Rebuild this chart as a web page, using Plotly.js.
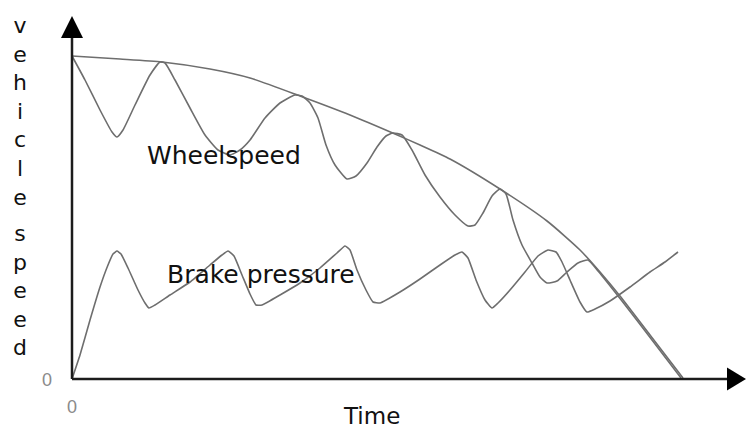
<!DOCTYPE html>
<html>
<head>
<meta charset="utf-8">
<script src="https://cdn.plot.ly/plotly-3.0.1.min.js"></script>
<style>html,body{margin:0;padding:0;background:#fff;}#chart{width:747px;height:430px;}</style>
</head>
<body>
<div id="chart"></div>
<script>
// Vehicle speed (envelope)
const envTime  = [0, 48, 90, 138, 178, 228, 278, 323, 348, 378, 428, 475, 508, 528, 548, 578, 611];
const envSpeed = [323, 320, 317, 310, 301, 283, 264, 245, 234, 220, 190, 158, 129, 107, 83, 44, 1];

// Wheel speed
const wheelTime  = [0, 13, 28, 40, 45, 51, 63, 78, 88, 93, 103, 118, 133, 146, 158, 168, 178, 193, 208, 223, 230, 238, 246, 254, 263, 275, 284, 295, 305, 314, 321, 330, 340, 353, 368, 383, 396, 403, 411, 420, 428, 434, 441, 450, 460, 468, 475, 485, 495, 506, 516, 526, 550, 580, 609];
const wheelSpeed = [323, 299, 269, 247, 242, 249, 274, 304, 317, 316, 299, 271, 244, 229, 224, 229, 239, 261, 276, 284, 283, 276, 261, 234, 214, 200, 203, 216, 232, 243, 246, 244, 229, 204, 182, 164, 153, 154, 166, 183, 190, 185, 159, 134, 116, 102, 96, 98, 107, 116, 119, 108, 78, 39, 1];

// Brake pressure
const brakeTime     = [0, 8, 18, 28, 36, 41, 45, 49, 56, 66, 73, 77, 83, 98, 118, 138, 150, 156, 162, 170, 178, 184, 190, 208, 228, 248, 265, 273, 278, 285, 294, 301, 308, 328, 348, 368, 383, 390, 396, 404, 413, 420, 426, 438, 453, 466, 476, 484, 490, 498, 508, 515, 523, 538, 558, 578, 593, 606];
const brakePressure = [0, 24, 59, 92, 114, 125, 128, 125, 111, 89, 76, 71, 74, 84, 97, 114, 124, 128, 123, 104, 85, 74, 74, 84, 96, 111, 126, 133, 129, 109, 89, 77, 76, 87, 100, 114, 124, 127, 121, 99, 79, 71, 76, 89, 107, 123, 129, 127, 117, 99, 77, 67, 70, 78, 92, 107, 117, 127];

// Axis tick labels
const xTickVals = [0];
const xTickText = ['0'];
const yTickVals = [0];
const yTickText = ['0'];

const curveColor = '#6e6e6e';
const axisColor = '#1c1c1c';
const labelFont = {family: 'DejaVu Sans', size: 25, color: '#111'};

const traces = [
  {x: envTime, y: envSpeed, type: 'scatter', mode: 'lines', name: 'Vehicle speed',
   line: {color: curveColor, width: 1.6, shape: 'spline', smoothing: 0.6}, hoverinfo: 'skip'},
  {x: wheelTime, y: wheelSpeed, type: 'scatter', mode: 'lines', name: 'Wheelspeed',
   line: {color: curveColor, width: 1.6, shape: 'spline', smoothing: 0.5}, hoverinfo: 'skip'},
  {x: brakeTime, y: brakePressure, type: 'scatter', mode: 'lines', name: 'Brake pressure',
   line: {color: curveColor, width: 1.6, shape: 'spline', smoothing: 0.4}, hoverinfo: 'skip'}
];

const annotations = [
  {x: 73, y: 224, xref: 'x', yref: 'y', text: 'Wheelspeed', showarrow: false, xanchor: 'left', yanchor: 'middle', font: labelFont},
  {x: 93, y: 105, xref: 'x', yref: 'y', text: 'Brake pressure', showarrow: false, xanchor: 'left', yanchor: 'middle', font: labelFont},
  {x: 299, y: -51, xref: 'x', yref: 'y', text: 'Time', showarrow: false, xanchor: 'center', yanchor: 'bottom',
   borderpad: 0, font: {family: 'DejaVu Sans', size: 23, color: '#111'}},
  {x: -52, y: 368, xref: 'x', yref: 'y', text: 'v<br>e<br>h<br>i<br>c<br>l<br>e', showarrow: false, xanchor: 'center', yanchor: 'top',
   font: {family: 'DejaVu Sans', size: 22, color: '#111'}},
  {x: -52, y: 160, xref: 'x', yref: 'y', text: 's<br>p<br>e<br>e<br>d', showarrow: false, xanchor: 'center', yanchor: 'top',
   font: {family: 'DejaVu Sans', size: 22, color: '#111'}},
  {x: xTickVals[0], y: -28, xref: 'x', yref: 'y', text: xTickText[0], showarrow: false, xanchor: 'center', yanchor: 'middle',
   font: {family: 'Liberation Sans', size: 18, color: '#8a8a8a'}},
  {x: -25, y: yTickVals[0] - 1, xref: 'x', yref: 'y', text: yTickText[0], showarrow: false, xanchor: 'center', yanchor: 'middle',
   font: {family: 'Liberation Sans', size: 18, color: '#8a8a8a'}}
];

const shapes = [
  {type: 'line', xref: 'x', yref: 'y', x0: 0, y0: 0, x1: 0, y1: 342, line: {color: axisColor, width: 2.5}},
  {type: 'path', xref: 'x', yref: 'y', path: 'M -11,341 L 11,341 L 0,363 Z', fillcolor: '#000', line: {color: '#000', width: 0}},
  {type: 'line', xref: 'x', yref: 'y', x0: 0, y0: 0, x1: 656, y1: 0, line: {color: axisColor, width: 2.5}},
  {type: 'path', xref: 'x', yref: 'y', path: 'M 655,11.5 L 655,-11.5 L 674,0 Z', fillcolor: '#000', line: {color: '#000', width: 0}}
];

const layout = {
  width: 747, height: 430,
  margin: {l: 0, r: 0, t: 0, b: 0, pad: 0},
  paper_bgcolor: '#fff', plot_bgcolor: '#fff',
  showlegend: false,
  xaxis: {range: [-72, 675], visible: false, fixedrange: true, title: {text: ''}},
  yaxis: {range: [-51, 379], visible: false, fixedrange: true, title: {text: ''}},
  annotations: annotations,
  shapes: shapes
};

Plotly.newPlot('chart', traces, layout, {staticPlot: true, displayModeBar: false});
</script>
</body>
</html>
